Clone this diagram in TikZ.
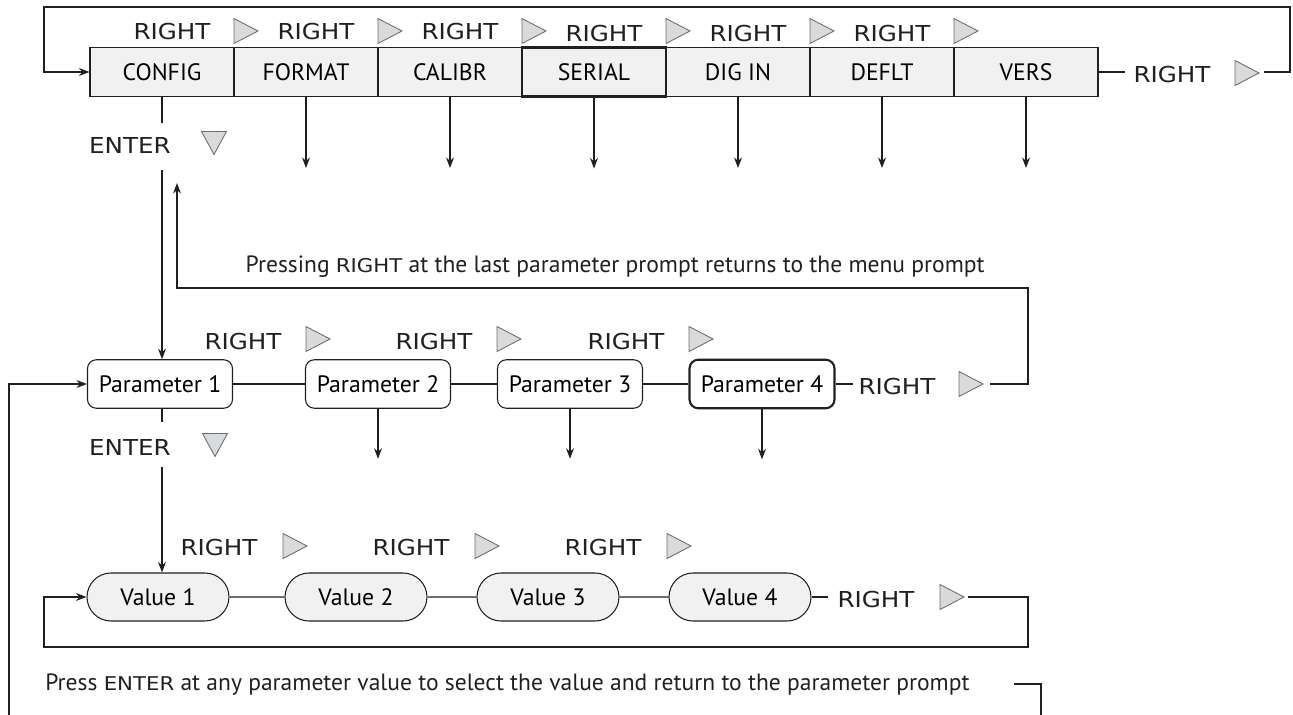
\documentclass[tikz,border=0pt]{standalone}
\usepackage{fontspec}
\setmainfont{PT Sans}
\newfontfamily\keyfont[FakeStretch=1.12]{DejaVu Sans}
\usetikzlibrary{arrows.meta,shapes.misc}
\definecolor{boxgray}{HTML}{F1F1F2}
\definecolor{trigray}{HTML}{D9DADB}
\definecolor{triline}{HTML}{6D6E71}
\definecolor{inkgray}{HTML}{231F20}
\newcommand{\smallkey}[1]{{\keyfont\fontsize{10.8}{12}\selectfont #1}}
\tikzset{
	boxfont/.style={font=\fontsize{13.5}{16}\selectfont},
	menubox/.style={boxfont, draw=inkgray, line width=0.6pt, fill=boxgray, minimum width=2.88cm, minimum height=0.98cm, inner sep=0pt},
	parbox/.style={boxfont, draw=inkgray, line width=0.6pt, rounded corners=5pt, minimum width=2.9cm, minimum height=0.97cm, inner sep=0pt},
	valbox/.style={boxfont, draw=inkgray, line width=0.6pt, fill=boxgray, rounded rectangle, minimum width=2.84cm, minimum height=0.96cm, inner sep=0pt},
	keylbl/.style={font=\keyfont\fontsize{12.5}{14}\selectfont, text=inkgray, inner sep=0pt},
	note/.style={font=\fontsize{13.4}{15}\selectfont, text=inkgray, inner sep=0pt},
	link/.style={draw=inkgray, line width=0.7pt},
	arr/.style={link, -{Stealth[length=6pt,width=4.5pt]}},
	rtri/.pic={\draw[draw=triline, fill=trigray, line width=0.5pt] (0,-12.5) -- (24,0) -- (0,12.5) -- cycle;},
	dtri/.pic={\draw[draw=triline, fill=trigray, line width=0.5pt] (-12.5,-11.5) -- (12.5,-11.5) -- (0,11.5) -- cycle;}
}
\begin{document}
\begin{tikzpicture}[x=0.02cm,y=-0.02cm]
		\useasboundingbox (0,0) rectangle (1293,715);
		\clip (0,0) rectangle (1293,715);
		\node[menubox] (config) at (162,72) {CONFIG};
		\node[menubox] (format) at (306,72) {FORMAT};
		\node[menubox] (calibr) at (450,72) {CALIBR};
		\node[menubox, line width=1.2pt] (serial) at (594,72) {SERIAL};
		\node[menubox] (digin) at (738,72) {DIG IN};
		\node[menubox] (deflt) at (882,72) {DEFLT};
		\node[menubox] (vers) at (1026,72) {VERS};
		\foreach \b/\h in {234/32,378/32,522/32,666/34,810/34,954/34} {
			\node[keylbl] (topkey\b) at (\b-62,\h) {RIGHT};
			\pic at (\b,31) {rtri};
		}
		\foreach \n in {format,calibr,serial,digin,deflt,vers}
			\draw[arr] (\n.south) -- ++(0,71);
		\node[keylbl] (verskey) at (1172,75) {RIGHT};
		\draw[link, shorten >=4.5pt] (vers.east) -- (verskey.west |- vers.east);
		\pic at (1235,73) {rtri};
		\coordinate (verstri) at (1264,72);
		\coordinate (topNE) at (1290,7);
		\coordinate (topNW) at (44,7);
		\draw[arr] (verstri) -| (topNE) -| (topNW) |- (config.west);
		\node[keylbl] (cfgenter) at (130,146) {ENTER};
		\pic at (214,143) {dtri};
		\coordinate (cfgstop) at (162,123);
		\coordinate (cfgresume) at (162,170);
		\draw[link] (config.south) -- (cfgstop);

		\node[parbox] (p1) at (160,384) {Parameter 1};
		\node[parbox] (p2) at (378,384) {Parameter 2};
		\node[parbox] (p3) at (570,384) {Parameter 3};
		\node[parbox, line width=1.2pt] (p4) at (762,384) {Parameter 4};
		\draw[arr] (cfgresume) -- (cfgresume |- p1.north);
		\foreach \a/\b in {p1/p2,p2/p3,p3/p4}
			\draw[link] (\a) -- (\b);
		\foreach \l in {306,497,689} {
			\node[keylbl] (parkey\l) at (\l-63,342) {RIGHT};
			\pic at (\l,339) {rtri};
		}
		\foreach \n in {p2,p3,p4}
			\draw[arr] (\n.south) -- ++(0,50);
		\node[keylbl] (p4key) at (897,387) {RIGHT};
		\draw[link, shorten >=2.8pt] (p4.east) -- (p4key.west |- p4.east);
		\pic at (959,384) {rtri};
		\coordinate (p4tri) at (990,384);
		\coordinate (backNE) at (1028,288);
		\coordinate (backtip) at (177,183);
		\draw[arr] (p4tri) -| (backNE) -| (backtip);
		\node[note, anchor=base east] (backnote) at (985,273) {Pressing \smallkey{RIGHT} at the last parameter prompt returns to the menu prompt};
		\node[keylbl] (parenter) at (130,447) {ENTER};
		\pic at (215,445) {dtri};
		\coordinate (parstop) at (162,422);
		\coordinate (parresume) at (162,467);
		\draw[link] (parstop |- p1.south) -- (parstop);

		\node[valbox] (v1) at (158,597) {Value 1};
		\node[valbox] (v2) at (356,597) {Value 2};
		\node[valbox] (v3) at (548,597) {Value 3};
		\node[valbox] (v4) at (740,597) {Value 4};
		\draw[arr] (parresume) -- (parresume |- v1.north);
		\foreach \a/\b in {v1/v2,v2/v3,v3/v4}
			\draw[link] (\a) -- (\b);
		\foreach \l in {285,477,669} {
			\node[keylbl] (valkey\l) at (\l-66,548) {RIGHT};
			\pic at (\l-2,546) {rtri};
		}
		\node[keylbl] (v4key) at (876,600) {RIGHT};
		\draw[link, shorten >=5pt] (v4.east) -- (v4key.west |- v4.east);
		\pic at (940,597) {rtri};
		\coordinate (v4tri) at (968,597);
		\coordinate (valSE) at (1028,647);
		\coordinate (valSW) at (44,647);
		\draw[arr] (v4tri) -| (valSE) -| (valSW) |- (v1.west);
		\node[note, anchor=base west] (enternote) at (45,690) {Press \smallkey{ENTER} at any parameter value to select the value and return to the parameter prompt};
		\coordinate (entNE) at (1014,684);
		\coordinate (entcorner) at (1041,684);
		\coordinate (entSE) at (1041,730);
		\coordinate (entSW) at (9,730);
		\draw[arr] (entNE) -- (entcorner) -- (entSE) -- (entSW) |- (p1.west);
\end{tikzpicture}
\end{document}
